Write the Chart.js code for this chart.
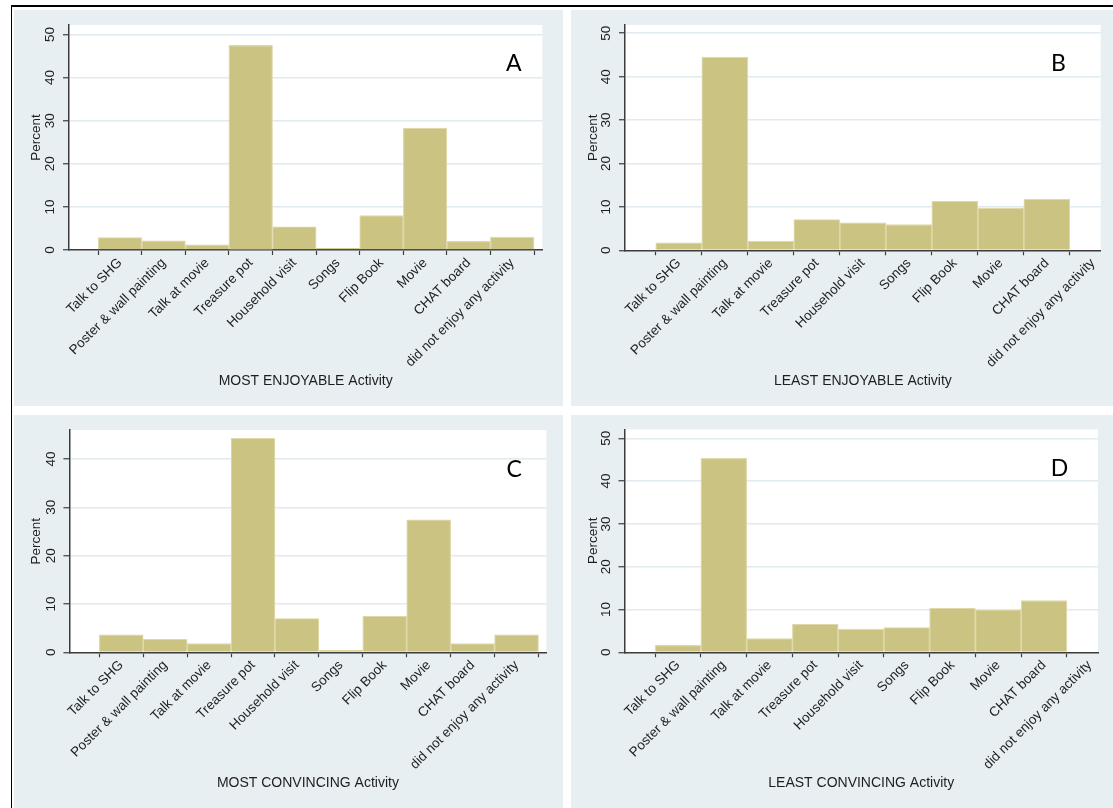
<!DOCTYPE html>
<html>
<head>
<meta charset="utf-8">
<title>Activity preferences</title>
<script src="https://cdn.jsdelivr.net/npm/chart.js@4.4.1/dist/chart.umd.min.js"></script>
<style>
  html, body { margin: 0; padding: 0; background: #ffffff; }
  body { width: 1113px; height: 808px; position: relative; overflow: hidden; }
  .frame { position: absolute; left: 11px; top: 5px; right: -4px; bottom: -4px;
           border-left: 1.5px solid #000; border-top: 2px solid #000; }
  .panel { position: absolute; background: #e8eff2; }
  canvas { display: block; }
</style>
</head>
<body>
<div class="frame"></div>
<div class="panel" style="left:14px;top:10px;width:549px;height:396px"><canvas id="chartA" width="549" height="396"></canvas></div>
<div class="panel" style="left:571px;top:10px;width:542px;height:396px"><canvas id="chartB" width="542" height="396"></canvas></div>
<div class="panel" style="left:14px;top:415px;width:549px;height:393px"><canvas id="chartC" width="549" height="393"></canvas></div>
<div class="panel" style="left:571px;top:415px;width:542px;height:393px"><canvas id="chartD" width="542" height="393"></canvas></div>

<script>
// Activity categories (x axis tick labels)
const activities = [
  'Talk to SHG', 'Poster & wall painting', 'Talk at movie', 'Treasure pot',
  'Household visit', 'Songs', 'Flip Book', 'Movie', 'CHAT board',
  'did not enjoy any activity'
];

// Percent of respondents per activity
const mostEnjoyable   = [2.9, 2.1, 1.2, 47.5, 5.4, 0.4, 8.0, 28.3, 2.0, 3.0];
const leastEnjoyable  = [1.7, 44.5, 2.1, 7.1, 6.3, 5.9, 11.3, 9.7, 11.8, 0];
const mostConvincing  = [3.6, 2.7, 1.8, 44.3, 7.0, 0.4, 7.5, 27.4, 1.8, 3.6];
const leastConvincing = [1.6, 45.3, 3.2, 6.6, 5.4, 5.8, 10.3, 9.9, 12.1, 0];

// Axis titles and panel letters
const axisTitles = ['MOST ENJOYABLE Activity', 'LEAST ENJOYABLE Activity',
                    'MOST CONVINCING Activity', 'LEAST CONVINCING Activity'];
const panelLetters = ['A', 'B', 'C', 'D'];

// Y tick values
const yTicksFull  = [0, 10, 20, 30, 40, 50];
const yTicksShort = [0, 10, 20, 30, 40];

const FONT = "'Liberation Sans', Arial, sans-serif";
const TEXT = '#1e1e1e';
const AXIS = '#3c3c3c';
const GRID = '#e1eaee';
const PANEL_BG = '#e8eff2';
const BAR_FILL = 'rgb(203,195,130)';
const BAR_EDGE = 'rgb(222,216,170)';

// Paints the panel and plot background, then the panel letter
const panelPaint = {
  id: 'panelPaint',
  beforeDraw(chart) {
    const { ctx, chartArea: a } = chart;
    ctx.save();
    ctx.fillStyle = PANEL_BG;
    ctx.fillRect(0, 0, chart.width, chart.height);
    ctx.fillStyle = '#ffffff';
    ctx.fillRect(a.left, a.top, a.right - a.left, a.bottom - a.top);
    ctx.restore();
  },
  afterDraw(chart, args, opts) {
    const ctx = chart.ctx;
    ctx.save();
    ctx.font = "23px Lato, 'Open Sans', sans-serif";
    ctx.fillStyle = '#000';
    ctx.textAlign = 'center';
    ctx.textBaseline = 'alphabetic';
    ctx.fillText(opts.letter, opts.x, opts.y);
    ctx.restore();
  }
};

function makeChart(cfg) {
  const canvas = document.getElementById(cfg.id);
  const W = canvas.width, H = canvas.height;
  const area = cfg.area;
  return new Chart(canvas, {
    type: 'bar',
    data: {
      datasets: [{
        data: cfg.values.map((v, i) => ({ x: i + 1, y: v })),
        backgroundColor: BAR_FILL,
        borderColor: BAR_EDGE,
        borderWidth: 1.2,
        barPercentage: 1,
        categoryPercentage: 1
      }]
    },
    options: {
      responsive: false,
      animation: false,
      events: [],
      layout: { padding: { left: 0, top: area.top, right: W - area.right, bottom: 0 } },
      plugins: {
        legend: { display: false },
        tooltip: { enabled: false },
        panelPaint: { letter: cfg.letter, x: cfg.letterX, y: cfg.letterY }
      },
      scales: {
        x: {
          type: 'linear',
          min: cfg.xMin,
          max: cfg.xMax,
          offset: false,
          z: 1,
          afterBuildTicks: s => { s.ticks = activities.map((_, i) => ({ value: i + 1 })); },
          afterFit: s => { s.height = H - area.bottom; },
          ticks: {
            autoSkip: false,
            minRotation: 45,
            maxRotation: 45,
            padding: 0,
            color: TEXT,
            font: { family: FONT, size: 13.5 },
            callback: v => activities[v - 1]
          },
          grid: { display: true, drawOnChartArea: false, drawTicks: true,
                  tickLength: 5, tickColor: AXIS, tickWidth: 1.2 },
          border: { display: true, color: AXIS, width: 1.5 },
          title: { display: true, text: cfg.title, color: TEXT,
                   font: { family: FONT, size: 14 }, padding: { top: 0, bottom: 16 } }
        },
        y: {
          min: 0,
          max: cfg.yMax,
          afterBuildTicks: s => { s.ticks = cfg.yTicks.map(v => ({ value: v })); },
          afterFit: s => { s.width = area.left; },
          ticks: {
            minRotation: 90,
            maxRotation: 90,
            crossAlign: 'center',
            padding: 5,
            color: TEXT,
            font: { family: FONT, size: 13.5 }
          },
          grid: { color: GRID, lineWidth: 1.5, tickLength: 6, tickColor: AXIS, tickWidth: 1.2 },
          border: { display: true, color: AXIS, width: 1.5 },
          title: { display: true, text: 'Percent', color: TEXT,
                   font: { family: FONT, size: 13.5 }, padding: { top: 14, bottom: 0 } }
        }
      }
    },
    plugins: [panelPaint]
  });
}

makeChart({ id: 'chartA', values: mostEnjoyable, title: axisTitles[0], letter: panelLetters[0],
            xMin: -0.17, xMax: 10.69, yMax: 52.2, yTicks: yTicksFull,
            area: { left: 55, top: 15, right: 528.3, bottom: 240 }, letterX: 499.7, letterY: 61 });
makeChart({ id: 'chartB', values: leastEnjoyable, title: axisTitles[1], letter: panelLetters[1],
            xMin: -0.17, xMax: 10.17, yMax: 51.9, yTicks: yTicksFull,
            area: { left: 54, top: 15, right: 529.7, bottom: 240.3 }, letterX: 487.5, letterY: 60.7 });
makeChart({ id: 'chartC', values: mostConvincing, title: axisTitles[2], letter: panelLetters[2],
            xMin: -0.18, xMax: 10.68, yMax: 46.0, yTicks: yTicksShort,
            area: { left: 55.4, top: 15, right: 532.4, bottom: 237.3 }, letterX: 500.3, letterY: 61.5 });
makeChart({ id: 'chartD', values: leastConvincing, title: axisTitles[3], letter: panelLetters[3],
            xMin: -0.17, xMax: 10.18, yMax: 52.1, yTicks: yTicksFull,
            area: { left: 53.5, top: 14.3, right: 527, bottom: 237.3 }, letterX: 488.6, letterY: 61 });
</script>
</body>
</html>
